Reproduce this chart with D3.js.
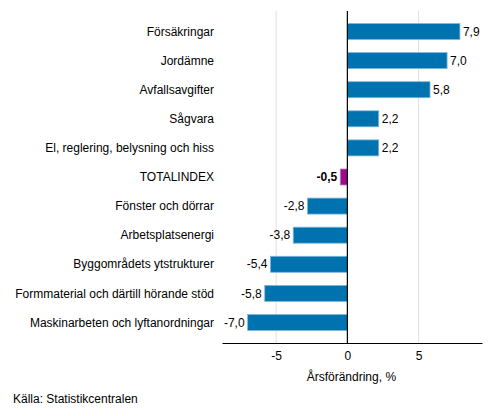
<!DOCTYPE html>
<html>
<head>
<meta charset="utf-8">
<script src="https://cdn.jsdelivr.net/npm/d3@7"></script>
<style>
body { margin: 0; background: #fff; }
svg { font-family: "Liberation Sans", Arial, sans-serif; }
</style>
</head>
<body>
<svg width="493" height="416"></svg>
<script>
let categories = ["Försäkringar", "Jordämne", "Avfallsavgifter", "Sågvara",
  "El, reglering, belysning och hiss", "TOTALINDEX", "Fönster och dörrar",
  "Arbetsplatsenergi", "Byggområdets ytstrukturer",
  "Formmaterial och därtill hörande stöd", "Maskinarbeten och lyftanordningar"];
let values = [7.9, 7.0, 5.8, 2.2, 2.2, -0.5, -2.8, -3.8, -5.4, -5.8, -7.0];
let xTicks = [-5, 0, 5];
let totalName = "TOTALINDEX";

let svg = d3.select("svg");
let plotLeft = 222, plotRight = 482, plotTop = 11, plotBottom = 343;

let x = d3.scaleLinear()
    .domain([-8.8, 9.45])
    .range([plotLeft, plotRight]);

let y = d3.scaleBand()
    .domain(categories)
    .range([plotTop, plotBottom])
    .paddingInner(0.45)
    .paddingOuter(0.43);

let fmt = function(v) { return d3.format(".1f")(v).replace(".", ",").replace("−", "-"); };

//gridlines
svg.append("g")
  .selectAll("line")
  .data(xTicks.filter(function(t) { return t != 0; }))
  .enter().append("line")
    .attr("x1", function(d) { return x(d); })
    .attr("x2", function(d) { return x(d); })
    .attr("y1", plotTop)
    .attr("y2", plotBottom)
    .attr("stroke", "#e0e0e0")
    .attr("stroke-width", 1);

//bars
svg.append("g")
  .selectAll("rect")
  .data(values)
  .enter().append("rect")
    .attr("x", function(d) { return x(Math.min(0, d)); })
    .attr("y", function(d, i) { return y(categories[i]); })
    .attr("width", function(d) { return Math.abs(x(d) - x(0)); })
    .attr("height", y.bandwidth())
    .attr("fill", function(d, i) { return categories[i] == totalName ? "#9b0b8c" : "#0072b0"; })
    .attr("stroke", function(d, i) { return categories[i] == totalName ? "#c77dbf" : "#7fb8d8"; })
    .attr("stroke-width", 0.8);

//value labels
svg.append("g")
  .selectAll("text")
  .data(values)
  .enter().append("text")
    .attr("x", function(d) { return d >= 0 ? x(d) + 3 : x(d) - 3; })
    .attr("y", function(d, i) { return y(categories[i]) + y.bandwidth() / 2; })
    .attr("dy", "0.35em")
    .attr("text-anchor", function(d) { return d >= 0 ? "start" : "end"; })
    .attr("font-size", 12)
    .attr("font-weight", function(d, i) { return categories[i] == totalName ? "bold" : "normal"; })
    .attr("fill", "#000")
    .text(function(d) { return fmt(d); });

//category labels
svg.append("g")
  .selectAll("text")
  .data(categories)
  .enter().append("text")
    .attr("x", 214)
    .attr("y", function(d) { return y(d) + y.bandwidth() / 2; })
    .attr("dy", "0.35em")
    .attr("text-anchor", "end")
    .attr("font-size", 12)
    .attr("fill", "#000")
    .text(function(d) { return d; });

//zero line
svg.append("line")
    .attr("x1", x(0)).attr("x2", x(0))
    .attr("y1", plotTop).attr("y2", plotBottom)
    .attr("stroke", "#000")
    .attr("stroke-width", 1.2);

//x axis
let axis = svg.append("g")
    .attr("transform", "translate(0," + plotBottom + ")")
    .call(d3.axisBottom(x).tickValues(xTicks).tickSize(0).tickPadding(8)
      .tickFormat(function(d) { return String(d).replace("−", "-"); }));
axis.select(".domain").attr("stroke", "#000").attr("stroke-width", 1.2);
axis.selectAll("text").attr("font-size", 12).attr("fill", "#000")
    .attr("font-family", "Liberation Sans, Arial, sans-serif");

svg.append("text")
    .attr("x", x(0) + 4)
    .attr("y", 381)
    .attr("text-anchor", "middle")
    .attr("font-size", 12)
    .attr("fill", "#000")
    .text("Årsförändring, %");

svg.append("text")
    .attr("x", 13)
    .attr("y", 403)
    .attr("font-size", 12)
    .attr("fill", "#000")
    .text("Källa: Statistikcentralen");
</script>
</body>
</html>
